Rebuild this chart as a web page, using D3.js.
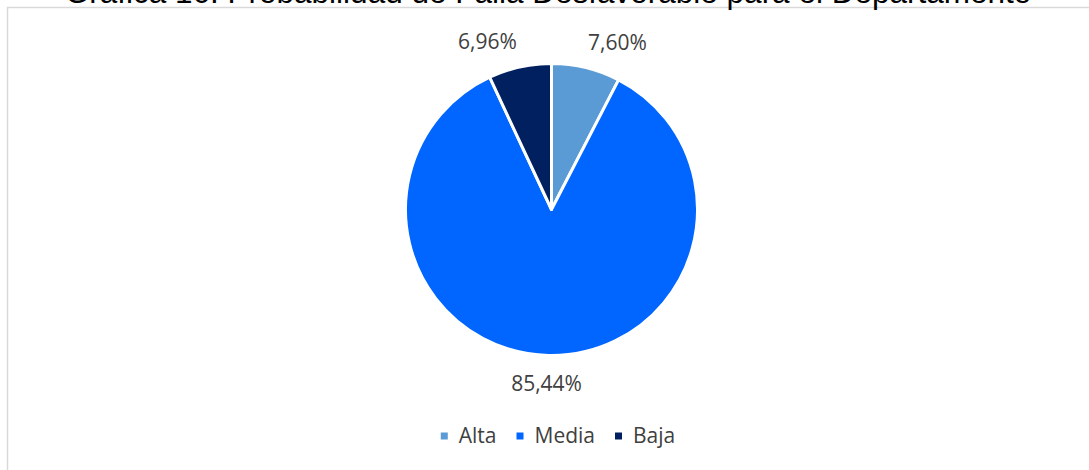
<!DOCTYPE html>
<html>
<head>
<meta charset="utf-8">
<script src="https://cdn.jsdelivr.net/npm/d3@7"></script>
<style>
  html, body { margin: 0; padding: 0; background: #ffffff; overflow: hidden; }
  svg { display: block; }
</style>
</head>
<body>
<svg id="chart" width="1089" height="470"></svg>
<script>
// ---- data ----
const categories = ["Alta", "Media", "Baja"];
const values = [7.60, 85.44, 6.96];
const labels = ["7,60%", "85,44%", "6,96%"];
const colors = ["#5B9BD5", "#0066FF", "#002060"];
const title = "Gráfica 16. Probabilidad de Falla Desfavorable para el Departamento";

// ---- layout ----
const W = 1089, H = 470;
const cx = 551.5, cy = 209.5, R = 146;
const svg = d3.select("#chart");

// chart area border
svg.append("rect")
  .attr("x", 7.5).attr("y", 7.5)
  .attr("width", 1100).attr("height", 500)
  .attr("fill", "none")
  .attr("stroke", "#D9D9D9")
  .attr("stroke-width", 1.5);

// title (clipped at top as in reference)
svg.append("text")
  .attr("x", 548).attr("y", 2.5)
  .attr("text-anchor", "middle")
  .attr("font-family", "'Liberation Sans', Arial, sans-serif")
  .attr("font-size", 31.5)
  .attr("fill", "#000000")
  .text(title);

const data = categories.map((c, i) => ({ cat: c, value: values[i], label: labels[i], color: colors[i] }));

const pie = d3.pie().sort(null).value(d => d.value);
const arcs = pie(data);
const arc = d3.arc().innerRadius(0).outerRadius(R);

const g = svg.append("g").attr("transform", `translate(${cx},${cy})`);

g.selectAll("path.slice")
  .data(arcs)
  .join("path")
  .attr("class", "slice")
  .attr("d", arc)
  .attr("fill", d => d.data.color)
  .attr("stroke", "#ffffff")
  .attr("stroke-width", 3)
  .attr("stroke-linejoin", "round");

// outside-end data labels
g.selectAll("text.lbl")
  .data(arcs)
  .join("text")
  .attr("class", "lbl")
  .each(function(d) {
    const a = (d.startAngle + d.endAngle) / 2;
    const s = Math.sin(a), c = Math.cos(a);
    const px = R * s, py = -R * c;
    let anchor = "middle", x = px - 2;
    if (s > 0.1) { anchor = "start"; x = px + 2; }
    else if (s < -0.1) { anchor = "end"; x = px - 3; }
    const y = c > 0 ? py - 17.5 : py + 36;
    d3.select(this)
      .attr("x", x).attr("y", y)
      .attr("text-anchor", anchor);
  })
  .attr("font-family", "'Open Sans', 'Noto Sans', sans-serif")
  .attr("font-size", 21)
  .attr("fill", "#404040")
  .text(d => d.data.label);

// legend
const legend = svg.append("g");
const legendFont = 21, sq = 7, sqGap = 11, itemGap = 20;
const items = legend.selectAll("g.item").data(data).join("g").attr("class", "item");
items.append("rect")
  .attr("width", sq).attr("height", sq)
  .attr("y", 432.5)
  .attr("fill", d => d.color);
items.append("text")
  .attr("y", 442.7)
  .attr("font-family", "'Open Sans', 'Noto Sans', sans-serif")
  .attr("font-size", legendFont)
  .attr("fill", "#404040")
  .text(d => d.cat);

let widths = [];
items.select("text").each(function() { widths.push(this.getComputedTextLength()); });
const itemW = widths.map(w => sq + sqGap + w);
const total = d3.sum(itemW) + itemGap * (itemW.length - 1);
let x0 = 558 - total / 2;
items.each(function(d, i) {
  d3.select(this).select("rect").attr("x", x0);
  d3.select(this).select("text").attr("x", x0 + sq + sqGap);
  x0 += itemW[i] + itemGap;
});
</script>
</body>
</html>
